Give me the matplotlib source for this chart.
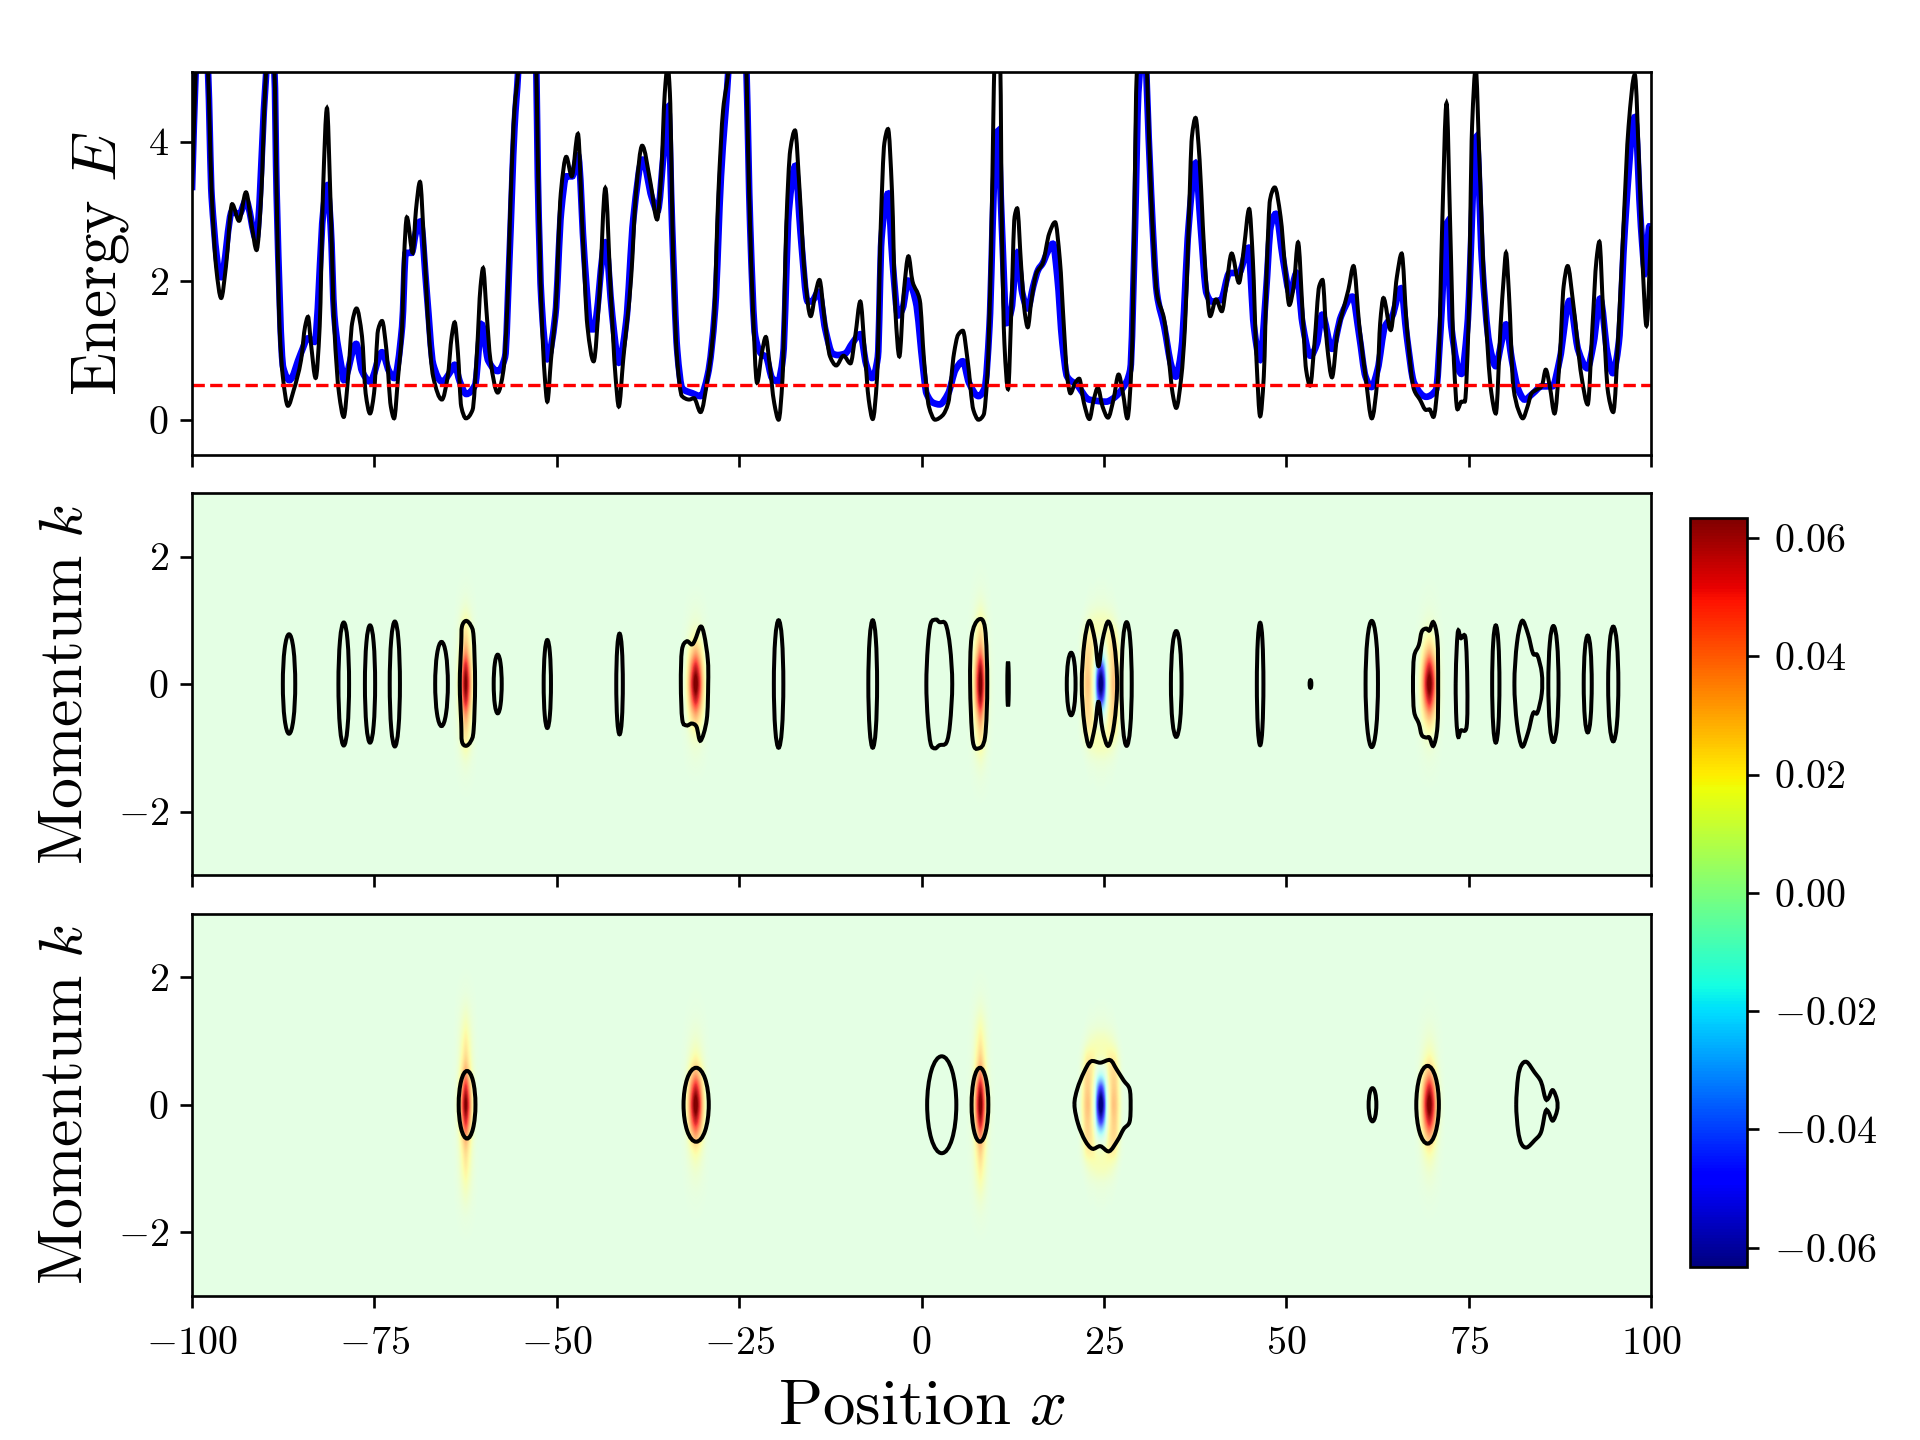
import numpy as np
import matplotlib
matplotlib.use('Agg')
import matplotlib.pyplot as plt
from matplotlib.colors import Normalize, ListedColormap
from matplotlib.cm import ScalarMappable
from matplotlib.patches import Ellipse, PathPatch
from matplotlib.path import Path

plt.rcParams['mathtext.fontset'] = 'cm'
plt.rcParams['font.family'] = ['cmr10', 'DejaVu Sans']
plt.rcParams['axes.unicode_minus'] = False
plt.rcParams['axes.formatter.use_mathtext'] = True

# top panel, black curve
black_x = [-100, -99.5, -98.7, -97.8, -97.3, -96.7, -96.0, -95.35, -94.5, -93.55, -92.6, -91.8, -91.15, -90.5, -90, -89.4, -88.7, -88.4, -88.0, -87.55, -86.85, -86.05, -85.05, -84.5, -84.1, -83.7, -83.05, -82.5, -82.05, -81.5, -81.05, -80.5, -79.85, -79.2, -78.6, -78.05, -77.45, -76.7, -76.2, -75.6, -75.05, -74.5, -73.95, -73.35, -72.75, -72.3, -71.75, -71.2, -70.95, -70.55, -69.75, -69.3, -68.75, -68.2, -67.6, -66.95, -65.75, -64.95, -64.4, -64.0, -63.55, -63.1, -62.45, -61.55, -60.95, -60.45, -60.1, -59.65, -59.1, -58.1, -57.3, -56.8, -56.3, -55.8, -55.3, -54.5, -53.6, -52.8, -52.6, -52.1, -51.65, -51.3, -50.8, -50.15, -49.45, -48.7, -47.95, -47.1, -46.5, -45.8, -44.95, -44.15, -43.35, -42.6, -41.95, -41.5, -40.9, -39.8, -39.15, -38.3, -37.15, -36.25, -35.7, -35.2, -34.8, -34.5, -34.05, -33.5, -32.85, -31.85, -31.2, -30.3, -29.3, -28.5, -27.85, -27.2, -26.5, -25.5, -24.7, -24, -23.75, -23.2, -22.55, -21.9, -21.35, -20.9, -20.2, -19.6, -19.05, -18.55, -18.0, -17.35, -16.7, -16.0, -15.2, -14.55, -14.0, -13.35, -12.55, -11.7, -10.7, -9.75, -9.1, -8.4, -7.8, -7.25, -6.7, -6.1, -5.6, -5.1, -4.6, -4.05, -3.6, -3.05, -2.45, -1.8, -1.25, -0.25, 0.33, 1.0, 1.85, 2.85, 3.65, 4.45, 5, 5.65, 6.3, 7.1, 7.8, 8.5, 9, 9.5, 9.85, 9.95, 10.4, 10.8, 11, 11.35, 11.85, 12.3, 12.75, 13.1, 13.65, 14.15, 14.55, 15.05, 15.75, 16.6, 17.5, 18.3, 18.95, 19.5, 19.95, 20.4, 21.05, 21.6, 22.25, 23, 23.6, 24.15, 24.8, 25.55, 26.3, 27, 27.6, 28.2, 28.8, 29.15, 29.4, 29.5, 30.2, 30.9, 31.45, 32.25, 33.25, 33.9, 34.4, 34.9, 35.6, 36.1, 36.6, 37.05, 37.55, 38.1, 38.55, 39.05, 39.55, 40.35, 41.15, 41.75, 42.5, 43.5, 44.2, 44.9, 45.4, 45.9, 46.4, 46.9, 47.35, 47.75, 48.4, 49.2, 49.85, 50.4, 51, 51.6, 52.2, 52.7, 53.25, 53.85, 54.5, 54.95, 55.55, 56.25, 57, 57.65, 58.5, 59.2, 60, 60.85, 61.7, 62.5, 62.85, 63.3, 64.3, 65.15, 65.8, 66.5, 67.5, 68.3, 69.15, 69.6, 70.15, 70.8, 71.35, 71.95, 72.45, 72.95, 73.45, 74, 74.45, 74.95, 75.45, 75.95, 76.45, 77.15, 78.1, 78.7, 79.35, 79.8, 80.1, 80.5, 81.1, 81.8, 82.4, 83.05, 83.6, 84.25, 85, 85.55, 86.1, 86.75, 87.45, 88, 88.55, 89.3, 90.45, 91.3, 91.95, 92.5, 92.9, 93.4, 94.1, 94.8, 95.55, 96.2, 96.9, 97.75, 98.4, 98.9, 99.35, 100]
black_E = [3.3, 5, 7, 5, 3.26, 2.2, 1.75, 2.2, 3.1, 2.86, 3.27, 2.78, 2.44, 3.26, 4.7, 5.6, 5, 3.26, 1.34, 0.62, 0.2, 0.43, 0.86, 1.34, 1.48, 1.1, 0.6, 1.34, 3.26, 4.48, 3.26, 1.34, 0.38, 0.04, 0.62, 1.39, 1.6, 1.2, 0.38, 0.09, 0.38, 1.29, 1.42, 1.0, 0.19, 0.02, 0.62, 1.34, 2.3, 2.91, 2.4, 3.02, 3.42, 2.54, 1.34, 0.62, 0.29, 0.62, 1.2, 1.4, 0.96, 0.19, 0.02, 0.14, 0.96, 1.92, 2.18, 1.58, 0.86, 0.39, 0.72, 1.58, 3.26, 4.46, 5, 7, 7, 5, 3.74, 1.58, 0.62, 0.26, 0.86, 1.58, 3.26, 3.78, 3.5, 4.11, 2.78, 1.34, 0.84, 1.82, 3.33, 1.82, 0.62, 0.19, 0.86, 2.06, 3.26, 3.94, 3.4, 2.88, 3.5, 4.7, 5.1, 4.7, 2.3, 0.86, 0.34, 0.29, 0.31, 0.11, 0.62, 1.34, 3.26, 4.46, 5, 7, 7, 5, 3.74, 1.82, 0.53, 0.96, 1.19, 0.86, 0.24, 0, 0.62, 2.78, 3.88, 4.16, 3.26, 2.06, 1.49, 1.82, 2.01, 1.49, 0.91, 0.78, 0.92, 0.81, 1.2, 1.7, 1.0, 0.29, 0.01, 0.62, 2.78, 3.98, 4.18, 3.26, 1.58, 0.91, 1.82, 2.35, 1.99, 1.72, 0.86, 0.19, 0, 0.06, 0.24, 0.96, 1.22, 1.28, 0.86, 0.14, 0, 0.07, 0.62, 2.3, 4.46, 5, 5.8, 5, 2.78, 1.1, 0.44, 1.58, 2.92, 3.04, 2.2, 1.53, 1.33, 1.72, 2.11, 2.25, 2.68, 2.84, 2.3, 1.34, 0.62, 0.38, 0.53, 0.59, 0.24, 0.01, 0.29, 0.46, 0.19, 0.03, 0.29, 0.65, 0.38, 0.02, 0.86, 2.78, 4.7, 5, 7.5, 5, 3.26, 1.82, 1.44, 0.86, 0.38, 0.17, 0.62, 1.34, 2.78, 4.07, 4.34, 3.74, 2.78, 1.92, 1.49, 1.73, 1.56, 1.92, 2.39, 1.97, 2.49, 3.03, 2.3, 0.86, 0.05, 0.62, 2.3, 3.16, 3.34, 2.92, 2.16, 1.65, 1.92, 2.55, 1.58, 0.72, 0.49, 1.1, 1.92, 2.01, 1.1, 0.61, 1.25, 1.53, 1.87, 2.21, 1.34, 0.62, 0.02, 0.62, 1.39, 1.75, 1.29, 2.06, 2.39, 1.34, 0.43, 0.29, 0.14, 0.15, 0.04, 0.62, 2.78, 4.55, 2.78, 0.86, 0.15, 0.26, 0.26, 1.34, 4.22, 5.05, 3.74, 1.82, 0.38, 0.09, 1.34, 2.06, 2.4, 1.82, 0.48, 0.14, 0.02, 0.19, 0.38, 0.43, 0.48, 0.72, 0.48, 0.09, 0.86, 1.92, 2.21, 1.68, 0.62, 0.22, 1.34, 2.3, 2.56, 1.58, 0.38, 0.11, 1.34, 2.78, 4.22, 4.96, 3.5, 2.06, 1.35, 2.78]

# top panel, blue curve
blue_x = [-100, -99.5, -98.7, -97.8, -97.3, -96, -94.5, -93.55, -92.6, -91.2, -90, -89.4, -88.7, -88.4, -87.5, -86.65, -85.1, -84.1, -83.2, -82, -81.5, -81, -80.5, -79.5, -79.2, -77.5, -76.7, -75.6, -73.95, -73, -72.3, -71.2, -70.7, -69.9, -69.3, -68.7, -67.8, -66.95, -65.75, -64.4, -64, -63.3, -62.4, -61.2, -60.3, -59.4, -58.1, -57.1, -56.5, -55.8, -55.3, -54.5, -53.6, -52.8, -52.6, -52.1, -51.3, -50.2, -49.4, -48.7, -47.9, -47.1, -46.2, -45.3, -44.95, -43.35, -42.4, -41.5, -40.5, -39.5, -38.25, -37, -36.2, -35.3, -34.75, -34.2, -33.5, -32.8, -31.4, -30.3, -29.3, -28.3, -27.5, -26.5, -25.5, -24.7, -24, -23.5, -22.8, -22, -21.3, -20.5, -19.7, -19, -18.2, -17.3, -16.6, -15.6, -15.1, -14.1, -13.2, -12.2, -11.5, -10.5, -9.5, -8.4, -7.6, -6.8, -6, -5.5, -4.6, -4.0, -3.2, -2.6, -1.85, -0.8, 0.2, 0.67, 1.66, 2.45, 3.65, 4.65, 5.65, 6.5, 7.8, 8.65, 9.3, 9.97, 10.45, 11, 11.65, 12.3, 13.1, 13.8, 14.55, 15.3, 16, 16.6, 17.3, 18, 18.6, 19.3, 19.95, 21.3, 22.95, 25.3, 26.3, 27.6, 28.6, 29.25, 29.7, 29.9, 30.3, 30.8, 31.45, 32.25, 33.25, 34.25, 34.85, 35.6, 36.6, 37.55, 38.25, 39.05, 39.75, 41, 42.2, 43.5, 44.75, 45.55, 46.4, 47.2, 47.85, 48.55, 49.55, 50.5, 51.4, 52.2, 53.3, 54.2, 54.9, 56.25, 57.5, 59.05, 60, 60.85, 61.65, 62.5, 63.5, 64.5, 65.7, 66.5, 67.5, 69.15, 70.5, 71.15, 72, 72.6, 74, 74.8, 76.05, 76.8, 77.8, 78.7, 79.45, 80.1, 80.9, 81.8, 82.65, 83.8, 85, 86.45, 87.45, 88.8, 90, 91.25, 92.1, 93, 94, 94.75, 95.55, 96.4, 97.75, 98.6, 99.2, 99.75, 100]
blue_E = [3.3, 5, 6.5, 5, 3.2, 2.05, 3.0, 2.95, 3.15, 2.6, 4.7, 5.5, 5, 3.26, 0.75, 0.57, 0.95, 1.17, 1.12, 3.0, 3.37, 2.8, 1.5, 0.75, 0.57, 1.09, 0.7, 0.55, 0.97, 0.7, 0.6, 1.34, 2.4, 2.4, 2.7, 2.85, 1.8, 0.8, 0.55, 0.72, 0.79, 0.55, 0.37, 0.5, 1.37, 0.85, 0.7, 0.9, 2.3, 4.2, 5, 7, 7, 5, 3.5, 1.7, 0.87, 1.5, 3.0, 3.5, 3.5, 3.8, 2.3, 1.3, 1.3, 2.55, 1.5, 0.82, 1.4, 2.9, 3.74, 3.2, 3.0, 3.9, 4.5, 2.8, 1.0, 0.45, 0.38, 0.34, 0.65, 1.6, 3.5, 5, 7, 7, 5, 2.8, 1.2, 0.95, 0.9, 0.6, 0.55, 0.9, 3.0, 3.65, 2.7, 1.7, 1.7, 1.84, 1.3, 0.95, 0.93, 0.95, 1.1, 1.23, 0.8, 0.6, 0.9, 2.6, 3.25, 2.3, 1.5, 1.6, 2.0, 1.7, 0.75, 0.38, 0.24, 0.22, 0.38, 0.72, 0.84, 0.53, 0.34, 0.46, 1.34, 3.5, 4.15, 2.78, 1.39, 1.58, 2.4, 1.82, 1.6, 1.92, 2.16, 2.25, 2.42, 2.53, 2.06, 1.1, 0.62, 0.5, 0.29, 0.26, 0.31, 0.46, 0.72, 2.78, 4.7, 5, 6.5, 5, 3.26, 1.82, 1.34, 0.77, 0.62, 1.0, 2.78, 3.69, 2.78, 1.82, 1.7, 1.72, 2.11, 2.11, 2.47, 1.34, 0.86, 1.82, 2.78, 2.96, 2.3, 1.82, 2.11, 1.39, 0.92, 1.1, 1.51, 1.02, 1.49, 1.77, 1.2, 0.62, 0.47, 0.72, 1.34, 1.49, 1.89, 1.2, 0.53, 0.33, 0.43, 1.34, 2.83, 1.34, 0.66, 1.34, 4.07, 2.3, 1.1, 0.77, 1.1, 1.37, 0.86, 0.43, 0.29, 0.38, 0.48, 0.48, 0.86, 1.71, 1.0, 0.74, 1.1, 1.74, 0.96, 0.67, 1.1, 2.78, 4.35, 2.78, 2.11, 2.78, 2.78]

energy_level = 0.5

# heatmap grid, one cell is 0.5 in x and 0.25 in k
grid_x = np.arange(-100, 100.5, 0.5)
grid_k = np.arange(-3, 3.25, 0.25)

# peaks: centre, height, profile across x (|dx| = 0, .5, 1, ...), profile along k (|k| = 0, .25, ...)
peak_narrow_x = [1, 0.72, 0.32, 0.07, 0.01]
peak_wide_x = [1, 0.82, 0.48, 0.17, 0.03]
centers = [-62.5, -31, 8, 69.5]
heights = [0.064, 0.066, 0.066, 0.066]
widths_x = [peak_narrow_x, peak_wide_x, peak_narrow_x, peak_wide_x]
k_mid = [
    [1, 0.88, 0.62, 0.42, 0.28, 0.12, 0.04, 0.01, 0],
    [1, 0.85, 0.55, 0.28, 0.12, 0.05, 0.01, 0, 0],
    [1, 0.90, 0.65, 0.44, 0.30, 0.15, 0.06, 0.02, 0],
    [1, 0.85, 0.55, 0.28, 0.12, 0.05, 0.02, 0, 0],
]
k_bot = [
    [1, 0.85, 0.60, 0.44, 0.35, 0.25, 0.15, 0.06, 0.02],
    [1, 0.85, 0.55, 0.30, 0.16, 0.08, 0.03, 0.01, 0],
    [1, 0.88, 0.62, 0.46, 0.35, 0.25, 0.14, 0.06, 0.02],
    [1, 0.85, 0.55, 0.30, 0.16, 0.08, 0.03, 0.01, 0],
]

# the one peak with the blue centre, rows |k| = 0, .25, ... columns |dx| = 0, .5, ...
ring_center = 24.5
ring_cells = [
    [-0.066, -0.048, 0.006, 0.030, 0.032, 0.020, 0.005],
    [-0.052, -0.034, 0.010, 0.028, 0.030, 0.018, 0.004],
    [-0.012, -0.004, 0.018, 0.027, 0.027, 0.016, 0.003],
    [0.013, 0.015, 0.020, 0.022, 0.020, 0.010, 0.002],
    [0.015, 0.015, 0.014, 0.012, 0.008, 0.003, 0],
    [0.006, 0.006, 0.005, 0.004, 0.002, 0, 0],
    [0.002, 0.002, 0.001, 0.001, 0, 0, 0],
    [0, 0, 0, 0, 0, 0, 0],
]

# plain ellipse contours: centre, half width, half height
mid_ex = [-86.7, -79.2, -75.6, -72.2, -65.8, -58.1, -51.3, -41.4, -19.6, -6.7, 11.85, 20.5, 28.1, 34.9, 46.4, 53.3, 61.7, 78.7, 86.6, 91.3, 94.8]
mid_ew = [0.85, 0.73, 0.70, 0.70, 0.87, 0.55, 0.50, 0.45, 0.65, 0.60, 0.10, 0.60, 0.70, 0.73, 0.45, 0.12, 0.85, 0.50, 0.70, 0.55, 0.70]
mid_eh = [0.78, 0.965, 0.92, 0.98, 0.66, 0.46, 0.69, 0.79, 1.0, 1.0, 0.35, 0.49, 0.97, 0.83, 0.96, 0.06, 0.99, 0.92, 0.91, 0.76, 0.90]
bot_ex = [-62.3, -30.9, 2.76, 8.0, 61.8, 69.35]
bot_ew = [1.15, 1.73, 2.0, 1.15, 0.53, 1.55]
bot_eh = [0.53, 0.58, 0.76, 0.58, 0.26, 0.61]

# irregular contours, read point by point
mid_shapes = [
    [(-63.3, 0), (-63.1, 0.64), (-63, 0.9), (-62.45, 0.99), (-61.8, 0.92), (-61.4, 0.74), (-61.2, 0), (-61.4, -0.72), (-61.8, -0.9), (-62.45, -0.97), (-63, -0.9), (-63.1, -0.62)],
    [(-33, 0), (-32.85, 0.53), (-32.2, 0.67), (-31.5, 0.62), (-31.05, 0.69), (-30.3, 0.9), (-29.8, 0.77), (-29.3, 0.38), (-29.25, 0), (-29.45, -0.56), (-30.3, -0.89), (-30.85, -0.67), (-31.5, -0.62), (-32.2, -0.65), (-32.8, -0.56)],
    [(0.65, 0), (0.85, 0.58), (1.25, 0.95), (2, 1.01), (2.45, 0.97), (3.3, 0.94), (3.9, 0.58), (4.2, 0), (3.9, -0.62), (3.4, -0.92), (2.45, -0.96), (1.85, -1.01), (1.25, -0.94), (0.85, -0.56)],
    [(6.65, 0), (6.85, 0.74), (7.8, 1.01), (8.7, 0.87), (9, 0), (8.7, -0.83), (7.8, -1.01), (7, -0.88)],
    [(21.95, 0), (22.3, 0.64), (23, 0.99), (23.75, 0.69), (24.25, 0.28), (24.8, 0.69), (25.6, 0.98), (26.4, 0.64), (26.8, 0), (26.4, -0.62), (25.6, -0.97), (24.8, -0.72), (24.25, -0.28), (23.75, -0.67), (23, -0.98), (22.3, -0.62)],
    [(67.35, 0), (67.5, 0.43), (68.15, 0.61), (68.55, 0.82), (69.15, 0.87), (69.6, 0.84), (70.15, 0.97), (70.7, 0.69), (70.8, 0), (70.7, -0.67), (70.15, -0.97), (69.6, -0.84), (69.15, -0.84), (68.55, -0.8), (68.15, -0.62), (67.5, -0.43)],
    [(73.2, 0), (73.35, 0.58), (73.55, 0.84), (73.9, 0.72), (74.55, 0.72), (74.8, 0), (74.7, -0.67), (73.9, -0.73), (73.55, -0.83), (73.3, -0.56)],
    [(81.25, 0), (81.6, 0.64), (82.3, 0.99), (83.1, 0.79), (83.8, 0.48), (84.4, 0.45), (85, 0.17), (85, -0.15), (84.4, -0.45), (83.8, -0.46), (83.1, -0.77), (82.3, -0.98), (81.6, -0.62)],
]
bot_shapes = [
    [(20.95, 0), (21.35, 0.25), (22.25, 0.51), (23.2, 0.68), (24.5, 0.66), (25.85, 0.7), (26.7, 0.56), (27.7, 0.38), (28.5, 0.25), (28.65, 0), (28.5, -0.27), (27.7, -0.38), (26.85, -0.56), (25.7, -0.73), (24.5, -0.65), (23.4, -0.69), (22.4, -0.56), (21.45, -0.3)],
    [(81.5, 0), (81.75, 0.43), (82.2, 0.62), (82.95, 0.67), (84, 0.51), (84.9, 0.36), (85.5, 0.1), (85.9, 0.1), (86.5, 0.23), (87.1, 0.07), (87.1, -0.09), (86.5, -0.25), (85.9, -0.11), (85.5, -0.11), (84.9, -0.43), (84, -0.56), (82.95, -0.67), (82.2, -0.61), (81.75, -0.4)],
]

x_ticks = [-100, -75, -50, -25, 0, 25, 50, 75, 100]
cbar_ticks = [-0.06, -0.04, -0.02, 0.00, 0.02, 0.04, 0.06]
vmax = 0.0633


def build_field(k_profiles):
    z = np.zeros((len(grid_k), len(grid_x)))
    mid_row = len(grid_k) // 2
    for c, h, px, pk in zip(centers, heights, widths_x, k_profiles):
        col = int(round((c + 100) / 0.5))
        for i, vk in enumerate(pk):
            for j, vx in enumerate(px):
                for r in {mid_row - i, mid_row + i}:
                    for q in {col - j, col + j}:
                        z[r, q] = h * vk * vx
    col = int(round((ring_center + 100) / 0.5))
    for i, row in enumerate(ring_cells):
        for j, v in enumerate(row):
            for r in {mid_row - i, mid_row + i}:
                for q in {col - j, col + j}:
                    z[r, q] = v
    return z


def curve_path(xs, ys):
    # the read points stay as they are, only the stroke between them is rounded:
    # bezier segments, flat at each local peak and dip
    xs = np.array(xs, dtype=float)
    ys = np.array(ys, dtype=float)
    dx = np.diff(xs)
    sec = np.diff(ys) / dx
    m = np.zeros(len(xs))
    m[0], m[-1] = sec[0], sec[-1]
    for i in range(1, len(xs) - 1):
        if sec[i - 1] * sec[i] > 0:
            w1 = 2 * dx[i] + dx[i - 1]
            w2 = dx[i] + 2 * dx[i - 1]
            m[i] = (w1 + w2) / (w1 / sec[i - 1] + w2 / sec[i])
    verts = [(xs[0], ys[0])]
    codes = [Path.MOVETO]
    for i in range(len(dx)):
        verts.append((xs[i] + dx[i] / 3, ys[i] + m[i] * dx[i] / 3))
        verts.append((xs[i + 1] - dx[i] / 3, ys[i + 1] - m[i + 1] * dx[i] / 3))
        verts.append((xs[i + 1], ys[i + 1]))
        codes += [Path.CURVE4] * 3
    return Path(verts, codes)


def outline_path(points):
    # same idea for the closed contours
    pts = np.array(points, dtype=float)
    n = len(pts)
    verts = [tuple(pts[0])]
    codes = [Path.MOVETO]
    for i in range(n):
        p0, p1, p2, p3 = pts[i - 1], pts[i], pts[(i + 1) % n], pts[(i + 2) % n]
        verts.append(tuple(p1 + (p2 - p0) / 6))
        verts.append(tuple(p2 - (p3 - p1) / 6))
        verts.append(tuple(p2))
        codes += [Path.CURVE4] * 3
    return Path(verts, codes)


# jet washed out towards white for small values, the colorbar keeps plain jet
jet = plt.get_cmap('jet')
lev = np.linspace(-1, 1, 512)
rgba = jet((lev + 1) / 2)
fade = 0.2 + 0.8 * np.abs(lev) ** 1.5
rgba[:, :3] = 1 - (1 - rgba[:, :3]) * fade[:, None]
pale_jet = ListedColormap(rgba)
norm = Normalize(-vmax, vmax)

fig, axes = plt.subplots(3, 1, figsize=(8, 6), sharex=True)
fig.subplots_adjust(left=0.1, right=0.86, top=0.95, bottom=0.1, hspace=0.1)

ax = axes[0]
ax.add_patch(PathPatch(curve_path(blue_x, blue_E), fill=False, ec='b', lw=2))
ax.add_patch(PathPatch(curve_path(black_x, black_E), fill=False, ec='k', lw=1.2))
ax.axhline(energy_level, color='r', ls='--', lw=1)
ax.set_ylim(-0.5, 5)
ax.set_yticks([0, 2, 4])
ax.set_yticklabels(['$0$', '$2$', '$4$'], fontsize=12)
ax.set_ylabel(r'$\mathrm{Energy}\ E$', fontsize=19, labelpad=5)

for ax, k_prof, ex, ew, eh, shapes in [
    (axes[1], k_mid, mid_ex, mid_ew, mid_eh, mid_shapes),
    (axes[2], k_bot, bot_ex, bot_ew, bot_eh, bot_shapes),
]:
    ax.imshow(build_field(k_prof), extent=[-100.25, 100.25, -3.125, 3.125], origin='lower',
              aspect='auto', cmap=pale_jet, norm=norm, interpolation='catrom')
    for x0, w, h in zip(ex, ew, eh):
        ax.add_patch(Ellipse((x0, 0), 2 * w, 2 * h, fill=False, ec='k', lw=1.2))
    for s in shapes:
        ax.add_patch(PathPatch(outline_path(s), fill=False, ec='k', lw=1.2))
    ax.set_ylim(-3, 3)
    ax.set_yticks([-2, 0, 2])
    ax.set_yticklabels(['$-2$', '$0$', '$2$'], fontsize=12)
    ax.set_ylabel(r'$\mathrm{Momentum}\ k$', fontsize=18.5, labelpad=7)

axes[2].set_xlim(-100, 100)
axes[2].set_xticks(x_ticks)
axes[2].set_xticklabels(['$%d$' % t for t in x_ticks], fontsize=12)
axes[2].tick_params(axis='x', pad=5.5)
axes[2].set_xlabel(r'$\mathrm{Position}\ x$', fontsize=19.5, labelpad=5.3)

cax = fig.add_axes([0.88, 0.12, 0.03, 0.52])
cb = fig.colorbar(ScalarMappable(norm=norm, cmap=jet), cax=cax)
cb.set_ticks(cbar_ticks)
cb.ax.tick_params(pad=4.5)
cb.set_ticklabels(['$%.2f$' % t for t in cbar_ticks], fontsize=12)

fig.savefig('out.png', dpi=240)
